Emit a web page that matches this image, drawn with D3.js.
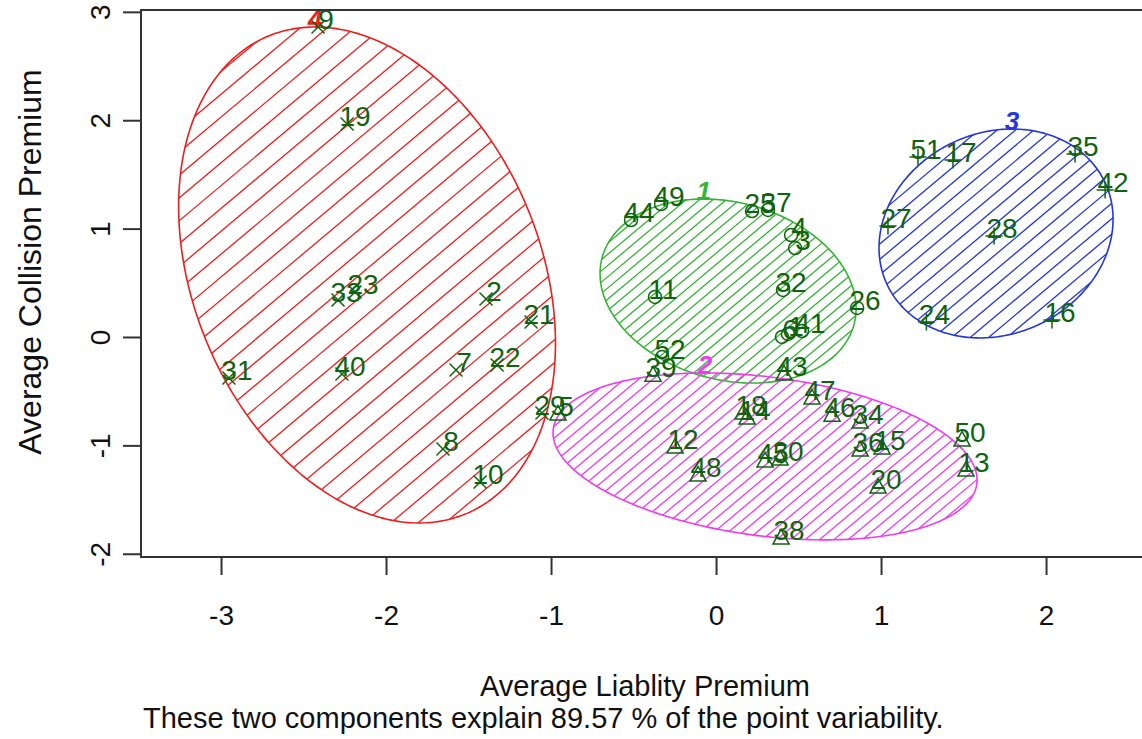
<!DOCTYPE html>
<html><head><meta charset="utf-8">
<script src="https://cdn.jsdelivr.net/npm/d3@7"></script>
<style>
body{margin:0;background:#fff}
svg{display:block}
text{font-family:"Liberation Sans",Arial,Helvetica,sans-serif}
</style>
</head><body>
<svg id="chart" width="1142" height="739"></svg>
<script>
// ---- data ----
const pointIds = [1,2,3,4,5,6,7,8,9,10,11,12,13,14,15,16,17,18,19,20,21,22,23,24,25,26,27,28,29,30,31,32,33,34,35,36,37,38,39,40,41,42,43,44,45,46,47,48,49,50,51,52];
const pointX = [0.436,-1.394,0.479,0.455,-0.958,0.400,-1.576,-1.655,-2.412,-1.430,-0.370,-0.248,1.515,0.188,1.006,2.036,1.436,0.164,-2.236,0.982,-1.121,-1.327,-2.188,1.275,0.218,0.855,1.042,1.685,-1.055,0.388,-2.952,0.406,-2.291,0.873,2.176,0.873,0.315,0.394,-0.382,-2.267,0.521,2.358,0.412,-0.515,0.297,0.703,0.582,-0.109,-0.333,1.491,1.224,-0.327];
const pointY = [0.028,0.351,0.821,0.941,-0.710,0.000,-0.304,-1.033,2.860,-1.338,0.369,-1.015,-1.227,-0.747,-1.024,0.157,1.633,-0.701,1.965,-1.384,0.138,-0.258,0.415,0.138,1.162,0.268,1.024,0.932,-0.701,-1.125,-0.378,0.434,0.341,-0.784,1.688,-1.042,1.172,-1.854,-0.351,-0.341,0.055,1.356,-0.341,1.079,-1.144,-0.720,-0.563,-1.273,1.227,-0.950,1.661,-0.185];
const pointCluster = [1,4,1,1,2,1,4,4,4,4,1,2,2,2,2,3,3,2,4,2,4,4,4,3,1,1,3,3,4,2,4,1,4,2,3,2,1,2,2,4,1,3,2,1,2,2,2,2,1,2,3,1];

// cluster ellipses (centre and shape matrix in data units)
const clusterIds   = [4, 1, 2, 3];
const ellCx        = [-2.115, 0.073, 0.297, 1.697];
const ellCy        = [0.572, 0.424, -1.102, 0.955];
const ellSxx       = [1.304, 0.602, 1.651, 0.503];
const ellSyy       = [5.235, 0.721, 0.593, 0.929];
const ellSxy       = [-0.721, -0.125, -0.28, 0.0935];
const clusterColor = ["#f01c1c", "#35b535", "#ee3cee", "#2336e0"];
const hatchGap     = [17.5, 8.6, 9.2, 11.8];

const xTicks = [-3,-2,-1,0,1,2];
const yTicks = [-2,-1,0,1,2,3];
const xTitle = "Average Liablity Premium";
const yTitle = "Average Collision Premium";
const subTitle = "These two components explain 89.57 % of the point variability.";

// ---- layout ----
const L = 141, R = 1149, T = 10, B = 557;
const x = d3.scaleLinear().domain([-3.485, 2.624]).range([L, R]);
const y = d3.scaleLinear().domain([-2.03, 3.017]).range([B, T]);
const svg = d3.select("#chart");
const ptCol = "#0f640f";
const fmt = d => String(d);

const defs = svg.append("defs");
const gEll = svg.append("g");

clusterIds.forEach((cid, i) => {
  const l11 = Math.sqrt(ellSxx[i]);
  const l21 = ellSxy[i] / l11;
  const l22 = Math.sqrt(ellSyy[i] - l21 * l21);
  const pts = d3.range(0, 360, 1).map(d => {
    const t = d * Math.PI / 180;
    return [x(ellCx[i] + l11 * Math.cos(t)), y(ellCy[i] + l21 * Math.cos(t) + l22 * Math.sin(t))];
  });
  const pathD = d3.line().curve(d3.curveLinearClosed)(pts);
  const clipId = "clip" + cid;
  defs.append("clipPath").attr("id", clipId).append("path").attr("d", pathD);
  // hatch lines at ~40 degrees
  const th = 40 * Math.PI / 180;
  const nx = Math.sin(th), ny = Math.cos(th);
  const xs = pts.map(p => p[0]), ys = pts.map(p => p[1]);
  const x0 = d3.min(xs), x1 = d3.max(xs), y0 = d3.min(ys), y1 = d3.max(ys);
  const cs = [x0*nx + y0*ny, x1*nx + y0*ny, x0*nx + y1*ny, x1*nx + y1*ny];
  const cmin = d3.min(cs), cmax = d3.max(cs);
  const gh = gEll.append("g").attr("clip-path", `url(#${clipId})`);
  const dx = Math.cos(th), dy = -Math.sin(th);
  const len = (x1 - x0) + (y1 - y0);
  for (let c = cmin + hatchGap[i] * 0.5; c < cmax; c += hatchGap[i]) {
    const px = nx * c, py = ny * c;
    gh.append("line")
      .attr("x1", px - dx * len * 2).attr("y1", py - dy * len * 2)
      .attr("x2", px + dx * len * 2).attr("y2", py + dy * len * 2)
      .attr("stroke", clusterColor[i]).attr("stroke-width", 1.3);
  }
  gEll.append("path").attr("d", pathD).attr("fill", "none")
    .attr("stroke", clusterColor[i]).attr("stroke-width", 1.6);
  // cluster label at top of ellipse
  const topX = ellCx[i] + ellSxy[i] / Math.sqrt(ellSyy[i]);
  const topY = ellCy[i] + Math.sqrt(ellSyy[i]);
  svg.append("text").attr("x", x(topX)).attr("y", y(topY) + 1)
    .attr("text-anchor", "middle").attr("font-size", 26)
    .attr("font-style", "italic").attr("font-weight", "bold")
    .attr("fill", clusterColor[i]).text(cid);
});

// points
const gp = svg.append("g").attr("fill", "none").attr("stroke", ptCol).attr("stroke-width", 1.5);
pointIds.forEach((id, i) => {
  const px = x(pointX[i]), py = y(pointY[i]);
  const c = pointCluster[i];
  if (c === 1) {
    gp.append("circle").attr("cx", px).attr("cy", py).attr("r", 6.5);
  } else if (c === 2) {
    const s = 8.5;
    gp.append("path").attr("d", `M${px},${py - s} L${px + s * 0.95},${py + s * 0.72} L${px - s * 0.95},${py + s * 0.72} Z`);
  } else if (c === 3) {
    const s = 8.5;
    gp.append("path").attr("d", `M${px - s},${py} H${px + s} M${px},${py - s} V${py + s}`);
  } else {
    const s = 6.5;
    gp.append("path").attr("d", `M${px - s},${py - s} L${px + s},${py + s} M${px - s},${py + s} L${px + s},${py - s}`);
  }
});
// point labels
svg.append("g").selectAll("text").data(pointIds).join("text")
  .attr("x", (d, i) => x(pointX[i]) + 8)
  .attr("y", (d, i) => y(pointY[i]) + 2)
  .attr("text-anchor", "middle").attr("font-size", 28).attr("fill", ptCol)
  .text(d => d);

// box
svg.append("rect").attr("x", L).attr("y", T).attr("width", R - L).attr("height", B - T)
  .attr("fill", "none").attr("stroke", "#333").attr("stroke-width", 2);

// axes
const ax = svg.append("g").attr("transform", `translate(0,${B})`)
  .call(d3.axisBottom(x).tickValues(xTicks).tickSize(18).tickFormat(fmt));
ax.select(".domain").remove();
ax.selectAll("line").attr("stroke", "#333").attr("stroke-width", 2);
ax.selectAll("text").attr("y", 48).attr("dy", "0.71em")
  .attr("font-size", 28).attr("fill", "#111").attr("font-family", "Liberation Sans, Arial, sans-serif");

const ay = svg.append("g").attr("transform", `translate(${L},0)`)
  .call(d3.axisLeft(y).tickValues(yTicks).tickSize(18).tickFormat(fmt));
ay.select(".domain").remove();
ay.selectAll("line").attr("stroke", "#333").attr("stroke-width", 2);
ay.selectAll("text").attr("x", 0).attr("dy", null).attr("text-anchor", "middle")
  .attr("transform", "translate(-31,0) rotate(-90)")
  .attr("font-size", 28).attr("fill", "#111").attr("font-family", "Liberation Sans, Arial, sans-serif");

// titles
svg.append("text").attr("x", (L + R) / 2).attr("y", 696).attr("text-anchor", "middle")
  .attr("font-size", 29).attr("fill", "#111").text(xTitle);
svg.append("text").attr("x", 143).attr("y", 728).attr("text-anchor", "start")
  .attr("font-size", 29).attr("fill", "#111").text(subTitle);
svg.append("text").attr("transform", `translate(41,262) rotate(-90)`)
  .attr("text-anchor", "middle").attr("font-size", 32).attr("fill", "#111").text(yTitle);
</script>
</body></html>
